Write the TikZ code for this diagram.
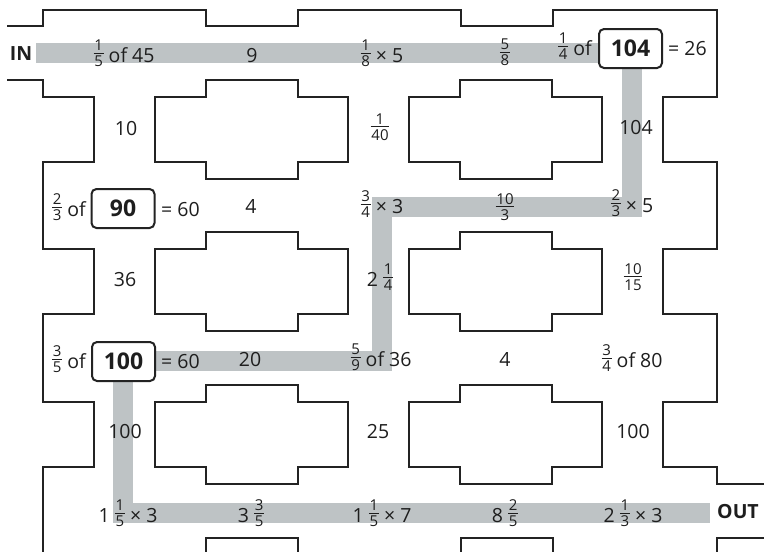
\documentclass[tikz,border=0pt]{standalone}
\usepackage{fontspec}
\setmainfont{Open Sans}

\definecolor{wallc}{RGB}{35,35,35}
\definecolor{bandc}{RGB}{190,195,197}
\definecolor{inkc}{RGB}{30,30,30}

% small stacked fraction with a horizontal bar
\newcommand\frsize{\fontsize{15}{15}\selectfont}
\newcommand\fr[2]{\raisebox{3.5pt}{$\vcenter{\offinterlineskip\halign{\hfil\kern0.8pt##\kern0.8pt\hfil\cr\frsize #1\cr\noalign{\kern2.2pt\hrule height 0.9pt\kern2.2pt}\frsize #2\cr}}$}}

\tikzset{
  wall/.style={draw=wallc, line width=2pt, line join=miter},
  pathband/.style={draw=bandc, line width=20pt, line join=miter, line cap=butt},
  numbox/.style={draw=wallc, line width=2pt, rounded corners=5pt, fill=white,
    minimum width=63pt, minimum height=39pt, inner sep=0pt,
    font=\fontsize{23}{23}\selectfont\bfseries, text=inkc},
  lbl/.style={inner sep=0pt, font=\fontsize{19.5}{21}\selectfont, text=inkc, anchor=base},
  tag/.style={lbl, font=\fontsize{19.5}{21}\selectfont\bfseries}
}

% one cross-shaped block of the maze; #1 = left x, #2 = top y of its main part
\newcommand\mazeblock[2]{%
  \draw[wall] (#1,#2) -- ++(51,0) -- ++(0,-17) -- ++(92,0) -- ++(0,17) -- ++(50,0)
    -- ++(0,65) -- ++(-50,0) -- ++(0,17) -- ++(-92,0) -- ++(0,-17) -- ++(-51,0) -- cycle;}

\begin{document}
\begin{tikzpicture}[x=1pt, y=-1pt]
\useasboundingbox (0,0) rectangle (764,552);
\fill[white] (0,0) rectangle (764,552);

% route through the maze
\coordinate (in) at (36,53);
\coordinate (k1) at (632,53);
\coordinate (k2) at (632,207);
\coordinate (k3) at (382,207);
\coordinate (k4) at (382,361);
\coordinate (k5) at (123,361);
\coordinate (k6) at (123,513);
\coordinate (out) at (710,513);
\draw[pathband] (in) -- (k1) -- (k2) -- (k3) -- (k4) -- (k5) -- (k6) -- (out);

% outer walls
\draw[wall] (7,26) -- (43,26) -- (43,9.5) -- (206,9.5) -- (206,26) -- (298,26) -- (298,9.5)
  -- (461,9.5) -- (461,26) -- (553,26) -- (553,9.5) -- (717,9.5) -- (717,97) -- (663,97)
  -- (663,162) -- (717,162) -- (717,249) -- (663,249) -- (663,314) -- (717,314) -- (717,402)
  -- (663,402) -- (663,467) -- (717,467) -- (717,484) -- (764,484);
\draw[wall] (7,80) -- (43,80) -- (43,97) -- (94,97) -- (94,162) -- (43,162) -- (43,249)
  -- (94,249) -- (94,314) -- (43,314) -- (43,402) -- (94,402) -- (94,467) -- (43,467) -- (43,552);
\draw[wall] (764,538) -- (717,538) -- (717,552);
\draw[wall] (206,552) -- (206,538) -- (298,538) -- (298,552);
\draw[wall] (461,552) -- (461,538) -- (553,538) -- (553,552);

% inner blocks
\foreach \bx in {155,409}{
  \foreach \by in {97,249,402}{
    \mazeblock{\bx}{\by}
  }
}

% boxed numbers
\node[numbox] (b104) at (630.5,48.5) {104};
\node[numbox] (b90) at (123,208.5) {90};
\node[numbox] (b100) at (123.5,361.5) {100};

% row 1
\node[tag] (tin) at (21,60) {IN};
\node[lbl] (a1) at (124,62) {\fr15 of 45};
\node[lbl] (a2) at (252,62) {9};
\node[lbl] (a3) at (382,62) {\fr18 × 5};
\node[lbl] (a4) at (505,61) {\fr58};
\node[lbl, anchor=base east] (a5) at (592,55) {\fr14 of};
\node[lbl, anchor=base west] (a6) at (668,55) {= 26};

% between rows 1 and 2
\node[lbl] (b1) at (126,135) {10};
\node[lbl] (b2) at (380,135.5) {\fr1{40}};
\node[lbl] (b3) at (636,134) {104};

% row 2
\node[lbl, anchor=base east] (c1) at (86,216) {\fr23 of};
\node[lbl, anchor=base west] (c2) at (161,216) {= 60};
\node[lbl] (c3) at (251,213) {4};
\node[lbl] (c4) at (382,213) {\fr34 × 3};
\node[lbl] (c5) at (505,215.5) {\fr{10}3};
\node[lbl] (c6) at (632,212) {\fr23 × 5};

% between rows 2 and 3
\node[lbl] (d1) at (125,286) {36};
\node[lbl] (d2) at (380,286) {2 \fr14};
\node[lbl] (d3) at (633,285.5) {\fr{10}{15}};

% row 3
\node[lbl, anchor=base east] (e1) at (86,368) {\fr35 of};
\node[lbl, anchor=base west] (e2) at (161,368) {= 60};
\node[lbl] (e3) at (250,366) {20};
\node[lbl] (e4) at (381,366) {\fr59 of 36};
\node[lbl] (e5) at (505,366) {4};
\node[lbl] (e6) at (632,367) {\fr34 of 80};

% between rows 3 and 4
\node[lbl] (f1) at (125,438) {100};
\node[lbl] (f2) at (378,438) {25};
\node[lbl] (f3) at (633,438) {100};

% row 4
\node[lbl] (g1) at (128,522) {1 \fr15 × 3};
\node[lbl] (g2) at (251,522) {3 \fr35};
\node[lbl] (g3) at (382,522) {1 \fr15 × 7};
\node[lbl] (g4) at (505,522) {8 \fr25};
\node[lbl] (g5) at (633,522) {2 \fr13 × 3};
\node[tag] (tout) at (738,518) {OUT};
\end{tikzpicture}
\end{document}
